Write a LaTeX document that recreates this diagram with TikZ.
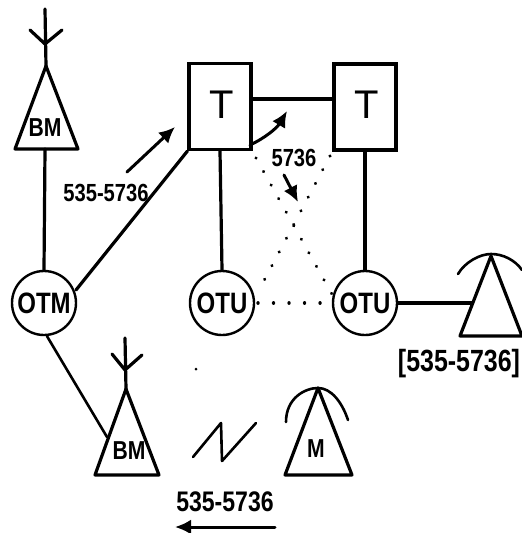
\documentclass[tikz,border=0pt]{standalone}
\usepackage{fontspec}
\setmainfont{Liberation Sans}
\usetikzlibrary{arrows.meta}
\newcommand{\fs}[1]{\fontsize{#1}{#1}\selectfont}
\newcommand{\tall}[1]{\scalebox{0.96}[1.18]{\bfseries #1}}
\tikzset{
  heavy/.style={line width=3.2pt,line cap=round,line join=round},
  medium/.style={line width=2.6pt,line cap=round,line join=round},
  station/.style={circle,draw,line width=2.4pt,minimum size=64pt,inner sep=0pt,font=\fs{25}},
  term/.style={rectangle,draw,line width=3.2pt,minimum width=62pt,minimum height=86pt,inner sep=0pt},
  termlabel/.style={inner sep=0pt,font=\fs{40}},
  tag/.style={inner sep=0pt,font=\fs{21}},
  ant/.style={inner sep=0pt,font=\fs{22}},
  flow/.style={line width=3pt,line cap=round,-{Latex[length=16pt,width=15pt]}},
  dots/.style={line width=3.4pt,line cap=round,dash pattern=on 0.01pt off 15.5pt}
}
\begin{document}
\begin{tikzpicture}[x=1pt,y=-1pt]
\useasboundingbox (0,0) rectangle (522,533);
% coordinates
\coordinate (bmaA) at (46,66); \coordinate (bmaL) at (15,149); \coordinate (bmaR) at (78,149);
\coordinate (bmaB) at (45,149); \coordinate (bmaTop) at (45,9); \coordinate (bmaJ) at (45,44);
\coordinate (bmaAl) at (30,30); \coordinate (bmaAr) at (62,30);
\coordinate (bmbA) at (126,389); \coordinate (bmbL) at (95,475); \coordinate (bmbR) at (159,475);
\coordinate (bmbTop) at (125,338); \coordinate (bmbJ) at (125,370);
\coordinate (bmbAl) at (112,354); \coordinate (bmbAr) at (142,355);
\coordinate (bmbS) at (107,437);
\coordinate (mA) at (318,388); \coordinate (mL) at (285,475); \coordinate (mR) at (352,475);
\coordinate (rA) at (491,256); \coordinate (rL) at (460,336); \coordinate (rR) at (522,336);
\coordinate (rS) at (472,303);
% nodes
\node[station] (otm) at (44,303) {\tall{OTM}};
\node[station] (otua) at (222,303) {\tall{OTU}};
\node[station] (otub) at (365,303) {\tall{OTU}};
\node[term] (ta) at (220,106.5) {};
\node[term] (tb) at (365,107) {};
\node[termlabel] (tal) at (222,105) {T};
\node[termlabel] (tbl) at (367,105) {T};
\node[ant] (bmal) at (45,128) {\tall{BM}};
\node[ant] (bmbl) at (129,451) {\tall{BM}};
\node[ant] (ml) at (316,449) {\tall{M}};
\node[tag] (la) at (106,193) {\tall{535-5736}};
\node[tag] (lb) at (294,158) {\tall{5736}};
\node[tag,font=\fs{26}] (lc) at (459,364) {\tall{[535-5736]}};
\node[tag,font=\fs{24}] (ld) at (225,502) {\tall{535-5736}};
% antennas
\draw[heavy] (bmaA)--(bmaL)--(bmaR)--cycle;
\draw[heavy] (bmaTop)--(bmaA) (bmaAl)--(bmaJ)--(bmaAr);
\draw[heavy] (bmbA)--(bmbL)--(bmbR)--cycle;
\draw[heavy] (bmbTop)--(bmbA) (bmbAl)--(bmbJ)--(bmbAr);
\draw[heavy] (mA)--(mL)--(mR)--cycle;
\draw[medium] (286,422) .. controls (286,398) and (305,388) .. (318,388) .. controls (331,388) and (342,402) .. (348,420);
\draw[heavy] (rA)--(rL)--(rR)--cycle;
\draw[medium] (458,274) .. controls (465,262) and (480,254) .. (491,254) .. controls (503,254) and (515,260) .. (522,270);
% connectors
\draw[heavy] (bmaB)--(otm.north);
\draw[heavy] (otm)+(32,-13) -- (ta.south west);
\draw[medium] (otm.south)++(3,0) -- (bmbS);
\draw[heavy] (ta.south)--(otua.north);
\draw[heavy] (tb.south)--(otub.north);
\draw[heavy] (ta.east|-0,99)--(tb.west|-0,99);
\draw[heavy] (otub.east)--(rS);
% dotted
\draw[dots] (256,158)--(333,296);
\draw[dots] (330,156)--(258,292);
\draw[dots] (258,303)--(334,303);
\fill (196,369) circle (1.5pt);
% flow arrows and lightning
\draw[flow] (127,172)--(175,127);
\draw[flow] (250,145) .. controls (265,138) and (277,128) .. (287,111);
\draw[flow] (284,175)--(298,202);
\draw[flow] (275,527)--(175,527);
\draw[medium] (193,457)--(221,423)--(222,461)--(256,423);
\end{tikzpicture}
\end{document}
